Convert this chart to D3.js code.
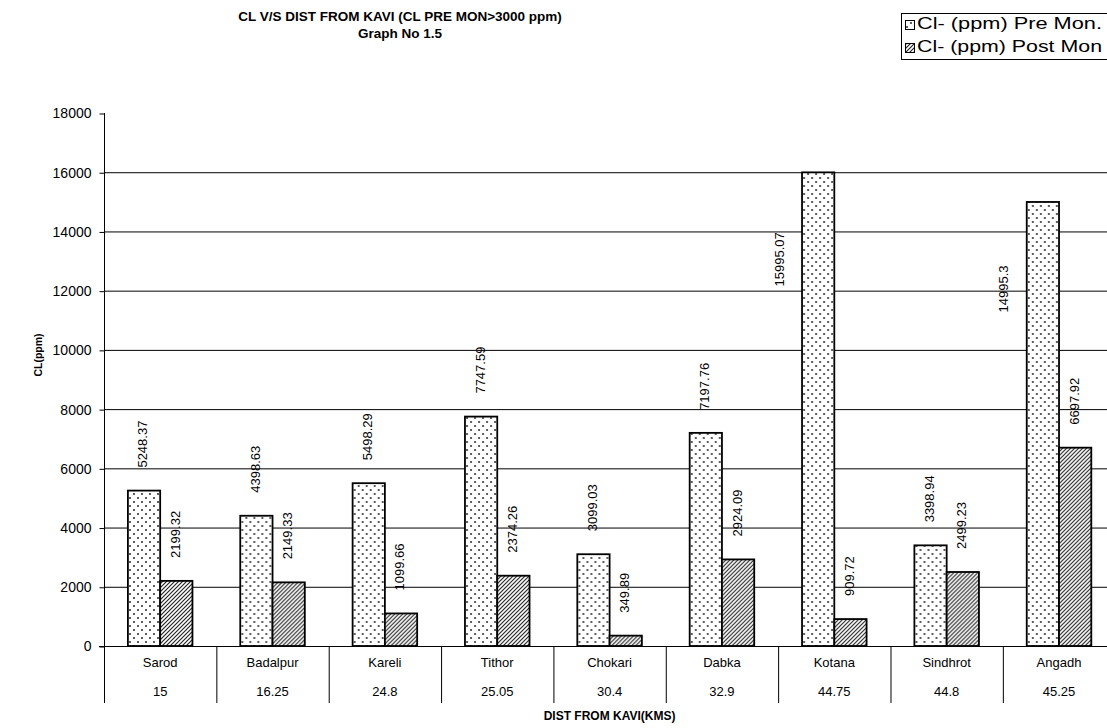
<!DOCTYPE html>
<html>
<head>
<meta charset="utf-8">
<script src="https://cdn.jsdelivr.net/npm/d3@7/dist/d3.min.js"></script>
<style>
  html, body { margin: 0; padding: 0; background: #fff; }
  svg { display: block; font-family: "Liberation Sans", Arial, Helvetica, sans-serif; }
</style>
</head>
<body>
<svg id="chart" width="1107" height="728"></svg>
<script>
// Villages sampled along the line from Kavi, with their distance (km)
const villages  = ["Sarod", "Badalpur", "Kareli", "Tithor", "Chokari", "Dabka", "Kotana", "Sindhrot", "Angadh"];
const distances = ["15", "16.25", "24.8", "25.05", "30.4", "32.9", "44.75", "44.8", "45.25"];

// Chloride (ppm) before and after the monsoon
const preMonsoon  = [5248.37, 4398.63, 5498.29, 7747.59, 3099.03, 7197.76, 15995.07, 3398.94, 14995.3];
const postMonsoon = [2199.32, 2149.33, 1099.66, 2374.26, 349.89, 2924.09, 909.72, 2499.23, 6697.92];

const seriesNames = ["Cl- (ppm) Pre Mon.", "Cl- (ppm) Post Mon"];
const yTicks = [0, 2000, 4000, 6000, 8000, 10000, 12000, 14000, 16000, 18000];

const svg = d3.select("#chart");

// plot frame
const plotLeft = 104, plotRight = 1115.2, plotTop = 113, plotBottom = 646;
const tableBottom = 703;

// fills: dotted for pre-monsoon, diagonal hatch for post-monsoon
const defs = svg.append("defs");
const dots = defs.append("pattern").attr("id", "dots")
  .attr("patternUnits", "userSpaceOnUse").attr("width", 8).attr("height", 8);
dots.append("rect").attr("width", 8).attr("height", 8).attr("fill", "#fff");
dots.append("circle").attr("cx", 2).attr("cy", 2).attr("r", 0.9).attr("fill", "#111");
dots.append("circle").attr("cx", 6).attr("cy", 6).attr("r", 0.9).attr("fill", "#111");

const hatch = defs.append("pattern").attr("id", "hatch")
  .attr("patternUnits", "userSpaceOnUse").attr("width", 4).attr("height", 4);
hatch.append("rect").attr("width", 4).attr("height", 4).attr("fill", "#fff");
hatch.append("path").attr("d", "M0,4 L4,0 M-1,1 L1,-1 M3,5 L5,3")
  .attr("stroke", "#222").attr("stroke-width", 1.15);

const fills = ["url(#dots)", "url(#hatch)"];

// scales
const x = d3.scaleBand().domain(villages).range([plotLeft, plotRight]).paddingInner(0).paddingOuter(0);
const groupPad = 23.9;
const xs = d3.scaleBand().domain([0, 1])
  .range([groupPad, x.bandwidth() - groupPad]).paddingInner(0).paddingOuter(0);
const y = d3.scaleLinear().domain([0, 18000]).range([plotBottom, plotTop]);

// titles
svg.append("text").attr("x", 400).attr("y", 21).attr("text-anchor", "middle")
  .attr("font-size", 13.5).attr("font-weight", "bold")
  .text("CL V/S DIST FROM KAVI (CL PRE MON>3000 ppm)");
svg.append("text").attr("x", 400).attr("y", 38).attr("text-anchor", "middle")
  .attr("font-size", 13.5).attr("font-weight", "bold")
  .text("Graph No 1.5");

// horizontal gridlines
svg.append("g").selectAll("line")
  .data(yTicks.filter(t => t > 0 && t < 18000))
  .join("line")
  .attr("x1", plotLeft).attr("x2", 1107)
  .attr("y1", d => y(d) + 0.5).attr("y2", d => y(d) + 0.5)
  .attr("stroke", "#000").attr("stroke-width", 1);

// y axis
const yAxis = d3.axisLeft(y).tickValues(yTicks).tickSize(5).tickPadding(8).tickFormat(d3.format("d"));
const gy = svg.append("g").attr("transform", `translate(${plotLeft + 0.5},0.5)`).call(yAxis);
gy.select(".domain").remove();
gy.selectAll(".tick line").attr("stroke", "#000");
gy.selectAll(".tick text").attr("font-size", 14).attr("fill", "#000")
  .attr("font-family", "Liberation Sans, Arial, sans-serif");
svg.append("line").attr("x1", plotLeft + 0.5).attr("x2", plotLeft + 0.5)
  .attr("y1", plotTop).attr("y2", tableBottom).attr("stroke", "#000");

svg.append("text")
  .attr("transform", `translate(39,355) rotate(-90)`)
  .attr("text-anchor", "middle").attr("dominant-baseline", "middle")
  .attr("font-size", 10.5).attr("font-weight", "bold")
  .text("CL(ppm)");

// bars
const rows = villages.map((v, i) => ({ village: v, values: [preMonsoon[i], postMonsoon[i]] }));
const groups = svg.append("g").selectAll("g")
  .data(rows).join("g")
  .attr("transform", d => `translate(${x(d.village)},0)`);

groups.selectAll("rect")
  .data(d => d.values.map((v, s) => ({ v, s })))
  .join("rect")
  .attr("x", d => xs(d.s))
  .attr("width", xs.bandwidth())
  .attr("y", d => y(d.v))
  .attr("height", d => y(0) - y(d.v))
  .attr("fill", d => fills[d.s])
  .attr("stroke", "#000").attr("stroke-width", 1.8);

// value labels, rotated; tall bars get their label set beside the bar
const labelGap = 23;
const tallLimit = 12000;
groups.selectAll("text.val")
  .data(d => d.values.map((v, s) => ({ v, s })))
  .join("text")
  .attr("class", "val")
  .attr("font-size", 13)
  .attr("dominant-baseline", "middle")
  .attr("text-anchor", d => d.v > tallLimit ? "middle" : "start")
  .attr("transform", d => {
    const cx = xs(d.s) + xs.bandwidth() / 2;
    if (d.v > tallLimit) return `translate(${cx - 38},${y(d.v) + 87}) rotate(-90)`;
    return `translate(${cx},${y(d.v) - labelGap}) rotate(-90)`;
  })
  .text(d => String(d.v));

// category axis drawn as a two-row table
svg.append("line").attr("x1", plotLeft - 5).attr("x2", 1107)
  .attr("y1", plotBottom + 0.5).attr("y2", plotBottom + 0.5).attr("stroke", "#000");
svg.append("g").selectAll("line")
  .data(villages.slice(1).map(v => x(v)))
  .join("line")
  .attr("x1", d => d + 0.5).attr("x2", d => d + 0.5)
  .attr("y1", plotBottom).attr("y2", tableBottom)
  .attr("stroke", "#000");

svg.append("g").selectAll("text")
  .data(villages).join("text")
  .attr("x", d => x(d) + x.bandwidth() / 2).attr("y", 664)
  .attr("text-anchor", "middle").attr("dominant-baseline", "middle")
  .attr("font-size", 13).text(d => d);

svg.append("g").selectAll("text")
  .data(distances).join("text")
  .attr("x", (d, i) => x(villages[i]) + x.bandwidth() / 2).attr("y", 693)
  .attr("text-anchor", "middle").attr("dominant-baseline", "middle")
  .attr("font-size", 13).text(d => d);

svg.append("text").attr("x", (plotLeft + plotRight) / 2).attr("y", 717)
  .attr("text-anchor", "middle").attr("dominant-baseline", "middle")
  .attr("font-size", 12).attr("font-weight", "bold")
  .text("DIST FROM KAVI(KMS)");

// legend
const lg = svg.append("g").attr("transform", "translate(901,13)");
lg.append("rect").attr("x", 0.5).attr("y", 0.5).attr("width", 220).attr("height", 46)
  .attr("fill", "#fff").attr("stroke", "#000");
seriesNames.forEach((name, i) => {
  const cy = 12 + i * 23;
  lg.append("rect").attr("x", 4.5).attr("y", cy - 4.5).attr("width", 9).attr("height", 9)
    .attr("fill", fills[i]).attr("stroke", "#000").attr("stroke-width", 1);
  lg.append("text").attr("x", 16).attr("y", cy).attr("dominant-baseline", "middle")
    .attr("font-size", 16.5).attr("textLength", 185).attr("lengthAdjust", "spacingAndGlyphs")
    .text(name);
});
</script>
</body>
</html>
